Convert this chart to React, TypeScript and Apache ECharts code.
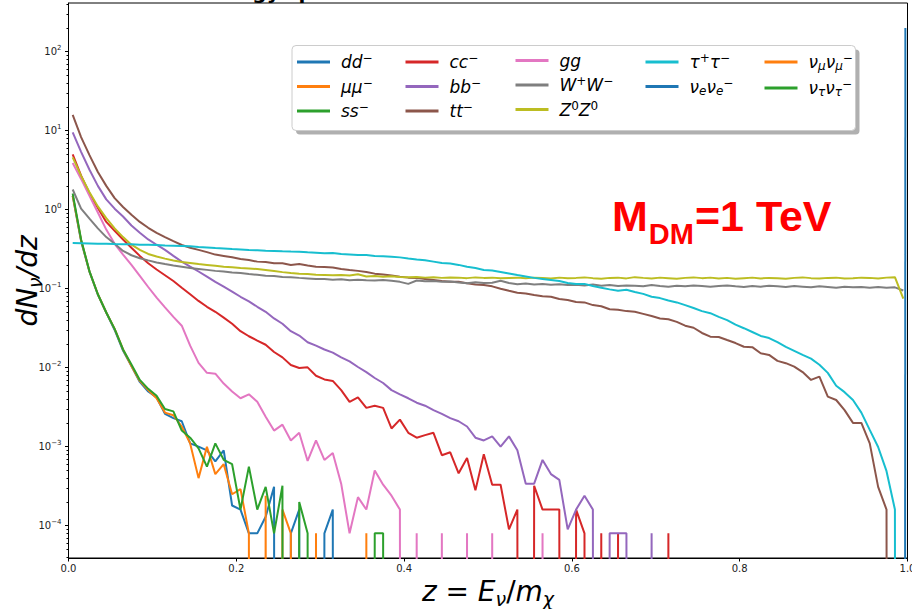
import React, { useEffect, useRef } from 'react';
import * as echarts from 'echarts';

// bin centres (z = E_nu / m_chi)
const Z = [0.005,0.015,0.025,0.035,0.045,0.055,0.065,0.075,0.085,0.095,0.105,0.115,0.125,0.135,0.145,0.155,0.165,0.175,0.185,0.195,0.205,0.215,0.225,0.235,0.245,0.255,0.265,0.275,0.285,0.295,0.305,0.315,0.325,0.335,0.345,0.355,0.365,0.375,0.385,0.395,0.405,0.415,0.425,0.435,0.445,0.455,0.465,0.475,0.485,0.495,0.505,0.515,0.525,0.535,0.545,0.555,0.565,0.575,0.585,0.595,0.605,0.615,0.625,0.635,0.645,0.655,0.665,0.675,0.685,0.695,0.705,0.715,0.725,0.735,0.745,0.755,0.765,0.775,0.785,0.795,0.805,0.815,0.825,0.835,0.845,0.855,0.865,0.875,0.885,0.895,0.905,0.915,0.925,0.935,0.945,0.955,0.965,0.975,0.985,0.995];

const DD = [1.5,0.40,0.164,0.084,0.05,0.03,0.0165,0.0105,0.0066,0.005,0.0042,0.0026,0.0023,0.0021,0.0011,0.001,0.0009,0.00065,0.0009,0.00018,0.00016,0.00008,0.00008,0.00013,0.00031,0,0.00008,0.00016,0,0,0.00008,0.00016,0];
const MUMU = [1.5,0.41,0.165,0.085,0.05,0.031,0.017,0.0105,0.0068,0.0052,0.0041,0.0027,0.0025,0.0018,0.0011,0.0004,0.001,0.00045,0.0006,0.00025,0.00029,0.00008,0,0.00024,0,0.00016,0.00008,0,0,0.00008,0,0,0,0,0,0.00008,0];
const SS = [1.6,0.42,0.166,0.085,0.05,0.031,0.017,0.011,0.007,0.0054,0.0044,0.003,0.0028,0.0016,0.0013,0.00095,0.00056,0.0011,0.00068,0.0006,0.00016,0.00056,0.00016,0.00031,0.00008,0.00032,0,0.0002,0.00008,0,0,0,0,0,0,0,0.00008,0.00008,0];
const CC = [5.0,2.7,1.6,1.05,0.7,0.54,0.42,0.33,0.26,0.21,0.175,0.148,0.125,0.103,0.085,0.07,0.059,0.051,0.043,0.036,0.029,0.025,0.022,0.0195,0.0158,0.0135,0.0108,0.0099,0.0101,0.0079,0.0071,0.0068,0.0052,0.0037,0.0042,0.0031,0.0033,0.0031,0.0017,0.0022,0.0015,0.0013,0.0014,0.0015,0.00078,0.00085,0.00046,0.00072,0.00028,0.0008,0.00033,0.00033,0.00009,0.00016,0,0.00032,0.00016,0.00016,0.00016,0,0.00016,0.00008,0,0.00008,0,0.00008,0,0,0,0,0,0.00008,0];
const BB = [9.5,5.4,3.2,2.0,1.35,1.03,0.82,0.63,0.51,0.42,0.36,0.31,0.26,0.22,0.19,0.165,0.142,0.122,0.106,0.092,0.079,0.069,0.059,0.051,0.042,0.036,0.029,0.0255,0.021,0.019,0.017,0.0155,0.0135,0.012,0.0102,0.0088,0.0074,0.0064,0.0052,0.0046,0.0041,0.0036,0.0033,0.0029,0.0026,0.0023,0.0021,0.0018,0.0013,0.0012,0.00135,0.001,0.00135,0.0009,0.00034,0.00034,0.00068,0.00045,0.00038,0.00009,0.00016,0.00024,0.00016,0,0.00008,0.00008,0.00008,0,0,0.00008,0];
const TT = [15.8,8.3,4.9,3.0,2.0,1.4,1.08,0.86,0.70,0.59,0.51,0.45,0.40,0.357,0.33,0.31,0.29,0.27,0.26,0.25,0.237,0.23,0.22,0.218,0.21,0.21,0.20,0.205,0.197,0.19,0.188,0.185,0.177,0.172,0.168,0.163,0.155,0.151,0.147,0.142,0.138,0.137,0.133,0.129,0.125,0.122,0.122,0.117,0.113,0.111,0.107,0.100,0.094,0.089,0.087,0.083,0.080,0.079,0.074,0.072,0.068,0.067,0.062,0.060,0.055,0.054,0.052,0.051,0.048,0.045,0.042,0.041,0.038,0.034,0.032,0.0275,0.0247,0.0245,0.0224,0.0205,0.0184,0.0182,0.0152,0.0145,0.0122,0.0114,0.0103,0.0088,0.0070,0.0077,0.0043,0.0039,0.0029,0.0020,0.0020,0.0011,0.00031,0.00016,0,0];
const GG = [3.9,2.45,1.5,0.92,0.56,0.37,0.27,0.2,0.145,0.105,0.077,0.058,0.044,0.034,0.019,0.0115,0.0086,0.0084,0.0063,0.005,0.0041,0.0046,0.0037,0.0024,0.0016,0.0019,0.0012,0.0015,0.00066,0.0012,0.00068,0.00083,0.00034,0.00008,0.00023,0.00016,0.0005,0.00033,0.00024,0.00016,0,0.00008,0,0,0.00008,0,0,0.00008,0,0,0.00008,0,0,0,0,0,0.00008,0];
const WW = [1.8,1.03,0.77,0.58,0.45,0.37,0.30,0.265,0.243,0.228,0.215,0.205,0.197,0.19,0.183,0.178,0.173,0.168,0.165,0.160,0.158,0.153,0.150,0.146,0.145,0.141,0.140,0.137,0.135,0.133,0.133,0.130,0.132,0.128,0.130,0.128,0.127,0.129,0.126,0.122,0.115,0.127,0.124,0.125,0.122,0.123,0.120,0.117,0.121,0.118,0.119,0.126,0.118,0.114,0.116,0.113,0.115,0.112,0.114,0.111,0.112,0.110,0.113,0.109,0.111,0.108,0.110,0.109,0.107,0.111,0.108,0.106,0.109,0.107,0.110,0.108,0.106,0.108,0.110,0.107,0.105,0.108,0.106,0.109,0.107,0.105,0.108,0.106,0.104,0.107,0.105,0.103,0.106,0.104,0.105,0.103,0.105,0.103,0.104,0.095];
const ZZ = [4.6,2.68,1.66,1.1,0.78,0.58,0.45,0.36,0.31,0.275,0.255,0.24,0.228,0.218,0.212,0.205,0.2,0.195,0.19,0.187,0.183,0.18,0.177,0.172,0.167,0.162,0.158,0.155,0.153,0.15,0.149,0.148,0.149,0.147,0.152,0.143,0.145,0.142,0.144,0.141,0.14,0.141,0.138,0.14,0.137,0.139,0.138,0.136,0.139,0.137,0.138,0.136,0.137,0.138,0.136,0.138,0.137,0.135,0.138,0.136,0.137,0.139,0.136,0.134,0.137,0.138,0.135,0.14,0.137,0.135,0.138,0.136,0.134,0.137,0.139,0.136,0.138,0.135,0.137,0.134,0.136,0.138,0.135,0.137,0.136,0.134,0.137,0.139,0.136,0.135,0.137,0.138,0.135,0.136,0.138,0.137,0.135,0.138,0.14,0.075];
const TAUTAU = [0.378,0.376,0.374,0.37,0.371,0.367,0.366,0.364,0.36,0.361,0.358,0.352,0.35,0.347,0.344,0.338,0.333,0.327,0.323,0.318,0.314,0.309,0.306,0.302,0.30,0.297,0.295,0.294,0.289,0.285,0.281,0.283,0.275,0.271,0.267,0.267,0.26,0.257,0.253,0.249,0.241,0.234,0.229,0.22,0.211,0.208,0.20,0.19,0.183,0.172,0.17,0.163,0.156,0.149,0.143,0.137,0.133,0.129,0.125,0.118,0.115,0.115,0.108,0.103,0.098,0.094,0.097,0.091,0.086,0.079,0.076,0.071,0.067,0.062,0.057,0.052,0.049,0.044,0.040,0.035,0.0316,0.0283,0.0252,0.0237,0.021,0.0183,0.0163,0.0145,0.013,0.0109,0.0086,0.0059,0.0049,0.0039,0.0027,0.00163,0.00099,0.00049,0.00016,0];
const NUE_Z = [0.9925, 0.9975];
const NUE = [0, 200];
const NUMU: number[] = [];
const NUTAU: number[] = [];

const Y_MIN = 3.9e-5;
const Y_MAX = 413;
const Y_MAJOR = [1e-4, 1e-3, 1e-2, 1e-1, 1, 10, 100];
const X_TICK_STEP = 0.2;

const SERIES = [
  { name: 'dd⁻', color: '#1f77b4', z: Z, v: DD },
  { name: 'μμ⁻', color: '#ff7f0e', z: Z, v: MUMU },
  { name: 'ss⁻', color: '#2ca02c', z: Z, v: SS },
  { name: 'cc⁻', color: '#d62728', z: Z, v: CC },
  { name: 'bb⁻', color: '#9467bd', z: Z, v: BB },
  { name: 'tt⁻', color: '#8c564b', z: Z, v: TT },
  { name: 'gg', color: '#e377c2', z: Z, v: GG },
  { name: 'W⁺W⁻', color: '#7f7f7f', z: Z, v: WW },
  { name: 'Z⁰Z⁰', color: '#bcbd22', z: Z, v: ZZ },
  { name: 'τ⁺τ⁻', color: '#17becf', z: Z, v: TAUTAU },
  { name: 'νₑνₑ⁻', color: '#1f77b4', z: NUE_Z, v: NUE },
  { name: 'ν_μν_μ⁻', color: '#ff7f0e', z: Z, v: NUMU },
  { name: 'ν_τν_τ⁻', color: '#2ca02c', z: Z, v: NUTAU },
];

const LABELS: Record<string, string> = {
  'dd⁻': '{i|dd}{sup|−}',
  'μμ⁻': '{i|μμ}{sup|−}',
  'ss⁻': '{i|ss}{sup|−}',
  'cc⁻': '{i|cc}{sup|−}',
  'bb⁻': '{i|bb}{sup|−}',
  'tt⁻': '{i|tt}{sup|−}',
  'gg': '{i|gg}',
  'W⁺W⁻': '{i|W}{sup|+}{i|W}{sup|−}',
  'Z⁰Z⁰': '{i|Z}{sup|0}{i|Z}{sup|0}',
  'τ⁺τ⁻': '{i|τ}{sup|+}{i|τ}{sup|−}',
  'νₑνₑ⁻': '{i|ν}{sub|e}{i|ν}{sub|e}{sup|−}',
  'ν_μν_μ⁻': '{i|ν}{sub|μ}{i|ν}{sub|μ}{sup|−}',
  'ν_τν_τ⁻': '{i|ν}{sub|τ}{i|ν}{sub|τ}{sup|−}',
};

const LEGEND_COLS = [
  ['dd⁻', 'μμ⁻', 'ss⁻'],
  ['cc⁻', 'bb⁻', 'tt⁻'],
  ['gg', 'W⁺W⁻', 'Z⁰Z⁰'],
  ['τ⁺τ⁻', 'νₑνₑ⁻'],
  ['ν_μν_μ⁻', 'ν_τν_τ⁻'],
];
const LEGEND_LEFT = [297, 405.5, 515.5, 645.5, 764.5];

const FONT = 'DejaVu Sans';
const FLOOR = 1e-100; // empty bins: drawn far below the axis, as log(0)

function buildOption() {
  const minor: number[] = [];
  for (let n = -5; n <= 2; n++) {
    for (let k = 2; k <= 9; k++) {
      const t = k * Math.pow(10, n);
      if (t > Y_MIN && t < Y_MAX) minor.push(t);
    }
  }
  const legendRich = {
    i: { fontFamily: FONT, fontStyle: 'italic', fontSize: 17, lineHeight: 20, color: '#000' },
    sup: { fontFamily: FONT, fontSize: 12, lineHeight: 11, verticalAlign: 'top', color: '#000' },
    sub: { fontFamily: FONT, fontStyle: 'italic', fontSize: 12, lineHeight: 9, verticalAlign: 'bottom', color: '#000' },
  };
  const legends = LEGEND_COLS.map((col, ci) => ({
    type: 'plain',
    orient: 'vertical',
    left: LEGEND_LEFT[ci],
    top: 52,
    padding: 0,
    itemGap: 6,
    itemWidth: 33,
    itemHeight: 3,
    icon: 'rect',
    selectedMode: false,
    z: 10,
    data: col,
    formatter: (name: string) => LABELS[name],
    textStyle: { color: '#000', fontFamily: FONT, fontSize: 17, padding: [0, 0, 0, 6], rich: legendRich },
  }));

  return {
    animation: false,
    backgroundColor: '#ffffff',
    grid: {
      left: 68.5, top: 3, width: 839, height: 555,
      show: true, borderColor: '#000', borderWidth: 1, backgroundColor: 'transparent',
      containLabel: false, outerBoundsMode: 'none',
    },
    legend: legends,
    xAxis: {
      type: 'value', min: 0, max: 1, interval: X_TICK_STEP,
      axisLine: { show: true, lineStyle: { color: '#000', width: 1 } },
      axisTick: { show: true, length: 3.5, lineStyle: { color: '#000' } },
      splitLine: { show: false },
      axisLabel: { fontFamily: FONT, fontSize: 10, color: '#222', margin: 5, formatter: (v: number) => v.toFixed(1) },
    },
    yAxis: [
      {
        type: 'log', logBase: 10, min: Y_MIN, max: Y_MAX,
        axisLine: { show: true, lineStyle: { color: '#000', width: 1 } },
        axisTick: { show: true, length: 3.5, lineStyle: { color: '#000' }, customValues: Y_MAJOR },
        splitLine: { show: false },
        minorTick: { show: false },
        axisLabel: {
          customValues: Y_MAJOR, margin: 7,
          formatter: (v: number) => {
            const e = Math.round(Math.log10(v));
            return '{b|10}{e|' + (e < 0 ? '−' + Math.abs(e) : String(e)) + '}';
          },
          rich: {
            b: { fontFamily: FONT, fontSize: 10, lineHeight: 14, color: '#222' },
            e: { fontFamily: FONT, fontSize: 7, lineHeight: 8, verticalAlign: 'top', color: '#222' },
          },
        },
      },
      {
        type: 'log', logBase: 10, min: Y_MIN, max: Y_MAX, position: 'left', offset: 0,
        axisLine: { show: false },
        axisTick: { show: true, length: 2, lineStyle: { color: '#000' }, customValues: minor },
        axisLabel: { show: false },
        splitLine: { show: false },
      },
    ],
    series: SERIES.map((s) => ({
      type: 'line',
      name: s.name,
      yAxisIndex: 0,
      data: s.v.map((v, i) => [s.z[i], v > 0 ? v : FLOOR]),
      showSymbol: false,
      symbol: 'none',
      clip: true,
      silent: true,
      color: s.color,
      itemStyle: { color: s.color },
      lineStyle: { color: s.color, width: 2 },
      emphasis: { disabled: true },
    })),
    graphic: [
      { type: 'rect', z: 1, shape: { x: 296, y: 49.5, width: 563.5, height: 85, r: 4 }, style: { fill: 'rgba(80,80,80,0.45)' } },
      { type: 'rect', z: 2, shape: { x: 292, y: 45.5, width: 563.5, height: 85, r: 4 }, style: { fill: '#ffffff', stroke: '#cccccc', lineWidth: 1 } },
      {
        type: 'text', z: 3, x: 27, y: 281, rotation: Math.PI / 2,
        style: {
          text: '{a|dN}{s|ν}{a|/dz}', align: 'center', verticalAlign: 'middle',
          rich: {
            a: { fontFamily: FONT, fontStyle: 'italic', fontSize: 28, lineHeight: 34, fill: '#000' },
            s: { fontFamily: FONT, fontStyle: 'italic', fontSize: 19, lineHeight: 14, verticalAlign: 'bottom', fill: '#000' },
          },
        },
      },
      {
        type: 'text', z: 3, x: 488, y: 591,
        style: {
          text: '{a|z}{n| = }{a|E}{s|ν}{n|/}{a|m}{s|χ}', align: 'center', verticalAlign: 'middle',
          rich: {
            a: { fontFamily: FONT, fontStyle: 'italic', fontSize: 28, lineHeight: 34, fill: '#000' },
            n: { fontFamily: FONT, fontSize: 28, lineHeight: 34, fill: '#000' },
            s: { fontFamily: FONT, fontStyle: 'italic', fontSize: 19, lineHeight: 14, verticalAlign: 'bottom', fill: '#000' },
          },
        },
      },
      {
        type: 'text', z: 3, x: 612, y: 194,
        style: {
          text: '{m|M}{s|DM}{m|=1 TeV}', align: 'left', verticalAlign: 'top',
          rich: {
            m: { fontFamily: 'Liberation Sans', fontWeight: 'bold', fontSize: 43, lineHeight: 51, verticalAlign: 'top', fill: '#ff0000' },
            s: { fontFamily: 'Liberation Sans', fontWeight: 'bold', fontSize: 29, lineHeight: 10, verticalAlign: 'top', fill: '#ff0000', padding: [25, 1, 0, 1] },
          },
        },
      },
      {
        type: 'text', z: 3, x: 201, y: -8,
        style: { text: 'Energy spectrum', fontFamily: FONT, fontWeight: 'bold', fontSize: 20, fill: '#000', align: 'left', verticalAlign: 'middle' },
      },
    ],
  };
}

export default function App() {
  const ref = useRef<HTMLDivElement>(null);
  useEffect(() => {
    if (!ref.current) return;
    const chart = echarts.init(ref.current, null, { renderer: 'svg', width: 912, height: 609 });
    chart.setOption(buildOption() as any);
    return () => chart.dispose();
  }, []);
  return (
    <div
      ref={ref}
      style={{ position: 'fixed', left: 0, top: 0, width: 912, height: 609, background: '#fff' }}
    />
  );
}
